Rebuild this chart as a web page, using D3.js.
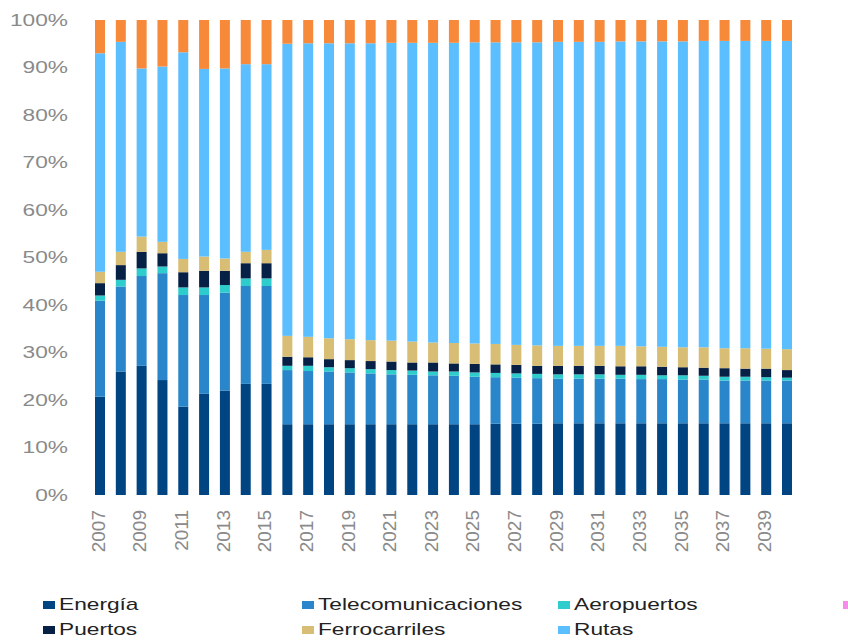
<!DOCTYPE html>
<html>
<head>
<meta charset="utf-8">
<script src="https://cdn.jsdelivr.net/npm/d3@7"></script>
<style>
  body { margin: 0; background: #fff; }
  svg { display: block; font-family: "Liberation Sans", Arial, sans-serif; }
</style>
</head>
<body>
<svg id="main_svg" width="848" height="642"></svg>
<script>
// years on the x axis
const years = d3.range(2007, 2041).map(String);
const yearLabels = years.filter((d, i) => i % 2 === 0);
const yTicks = [0, 10, 20, 30, 40, 50, 60, 70, 80, 90, 100];

// share of each sector, %
const energia = [20.7, 26.0, 27.2, 24.2, 18.6, 21.3, 22.0, 23.4, 23.4, 14.9, 14.9, 14.9, 14.9, 14.9, 14.9, 14.9, 14.9, 14.9, 14.9, 15.0, 15.0, 15.0, 15.1, 15.1, 15.1, 15.1, 15.1, 15.1, 15.1, 15.1, 15.1, 15.1, 15.1, 15.1];
const telecom = [20.2, 17.9, 18.9, 22.5, 23.5, 20.8, 20.6, 20.6, 20.6, 11.4, 11.2, 11.1, 10.9, 10.7, 10.5, 10.4, 10.3, 10.2, 10.0, 9.8, 9.7, 9.6, 9.4, 9.4, 9.4, 9.4, 9.3, 9.3, 9.2, 9.2, 9.0, 9.0, 9.0, 9.0];
const aeropuertos = [1.1, 1.4, 1.6, 1.4, 1.6, 1.6, 1.6, 1.6, 1.6, 0.9, 1.1, 0.9, 0.9, 0.9, 0.9, 0.9, 0.8, 0.9, 0.9, 0.9, 0.9, 0.9, 0.9, 0.9, 0.9, 0.8, 0.9, 0.8, 0.9, 0.8, 0.8, 0.8, 0.7, 0.6];
const puertos = [2.6, 3.1, 3.5, 2.8, 3.2, 3.5, 3.0, 3.2, 3.2, 1.9, 1.8, 1.7, 1.7, 1.7, 1.8, 1.7, 1.9, 1.7, 1.8, 1.8, 1.8, 1.7, 1.8, 1.8, 1.8, 1.8, 1.8, 1.8, 1.7, 1.7, 1.8, 1.7, 1.8, 1.6];
const ferrocarriles = [2.4, 2.8, 3.2, 2.4, 2.8, 3.0, 2.6, 2.4, 2.8, 4.4, 4.3, 4.4, 4.4, 4.4, 4.4, 4.4, 4.2, 4.3, 4.3, 4.3, 4.2, 4.3, 4.2, 4.2, 4.2, 4.3, 4.2, 4.2, 4.2, 4.3, 4.2, 4.3, 4.2, 4.4];
const rutas = [46.0, 44.2, 35.4, 36.9, 43.5, 39.5, 40.0, 39.5, 39.1, 61.5, 61.8, 62.1, 62.3, 62.5, 62.7, 62.9, 63.1, 63.2, 63.4, 63.5, 63.7, 63.8, 64.0, 64.0, 64.0, 64.1, 64.2, 64.3, 64.4, 64.5, 64.7, 64.7, 64.8, 64.9];
const otros = [7.0, 4.6, 10.2, 9.8, 6.8, 10.3, 10.2, 9.3, 9.3, 5.0, 4.9, 4.9, 4.9, 4.9, 4.8, 4.8, 4.8, 4.8, 4.7, 4.7, 4.7, 4.7, 4.6, 4.6, 4.6, 4.5, 4.5, 4.5, 4.5, 4.4, 4.4, 4.4, 4.4, 4.4];

const series = [
  { key: "Energía", values: energia, color: "#004481" },
  { key: "Telecomunicaciones", values: telecom, color: "#2a86ca" },
  { key: "Aeropuertos", values: aeropuertos, color: "#2dcccd" },
  { key: "Puertos", values: puertos, color: "#072146" },
  { key: "Ferrocarriles", values: ferrocarriles, color: "#d8be75" },
  { key: "Rutas", values: rutas, color: "#5bbeff" },
  { key: "Otros", values: otros, color: "#f7893b" }
];

// legend order as in the picture (two rows)
const legendOrder = ["Energía", "Telecomunicaciones", "Aeropuertos", "Puertos", "Ferrocarriles", "Rutas"];

const table = years.map((y, i) => {
  const row = { year: y };
  series.forEach(s => (row[s.key] = s.values[i]));
  return row;
});

const svg = d3.select("#main_svg");
const stretch = 1.42; // the source is widened horizontally

const x = d3
  .scaleBand()
  .domain(years)
  .range([95, 792])
  .paddingInner(0.52)
  .paddingOuter(0);

const y = d3
  .scaleLinear()
  .domain([0, 100])
  .range([495, 20]);

const stack = d3
  .stack()
  .keys(series.map(s => s.key))
  .offset(d3.stackOffsetExpand);

const layers = stack(table);
const color = d3
  .scaleOrdinal()
  .domain(series.map(s => s.key))
  .range(series.map(s => s.color));

svg
  .append("g")
  .selectAll("g")
  .data(layers)
  .enter()
  .append("g")
  .attr("fill", d => color(d.key))
  .selectAll("rect")
  .data(d => d)
  .enter()
  .append("rect")
  .attr("x", d => x(d.data.year))
  .attr("width", x.bandwidth())
  .attr("y", d => y(d[1] * 100))
  .attr("height", d => y(d[0] * 100) - y(d[1] * 100));

// y axis
const yAxis = svg
  .append("g")
  .attr("transform", "translate(68,0)")
  .call(
    d3
      .axisLeft(y)
      .tickValues(yTicks)
      .tickFormat(d => d + "%")
      .tickSize(0)
      .tickPadding(0)
  );
yAxis.select(".domain").remove();
yAxis
  .selectAll("text")
  .attr("fill", "#8a8a8a")
  .style("font-size", "16px")
  .attr("transform", `scale(${stretch},1)`);

// x axis, every other year
const xAxis = svg
  .append("g")
  .attr("transform", "translate(0,510)")
  .call(
    d3
      .axisBottom(x)
      .tickValues(yearLabels)
      .tickSize(0)
      .tickPadding(0)
  );
xAxis.select(".domain").remove();
xAxis
  .selectAll("text")
  .attr("fill", "#8a8a8a")
  .style("font-size", "19px")
  .attr("text-anchor", "end")
  .attr("x", 0)
  .attr("y", 0)
  .attr("dy", "0.25em")
  .attr("transform", "rotate(-90)");

// legend
const legendCols = [43, 302, 558];
const legendRows = [601, 626];
const legend = svg
  .append("g")
  .selectAll("g")
  .data(legendOrder)
  .enter()
  .append("g")
  .attr("transform", (d, i) => `translate(${legendCols[i % 3]},${legendRows[Math.floor(i / 3)]})`);

legend
  .append("rect")
  .attr("width", 12)
  .attr("height", 8)
  .attr("fill", d => color(d));

legend
  .append("text")
  .attr("transform", `translate(16,9) scale(${stretch},1)`)
  .attr("fill", "#222")
  .style("font-size", "16px")
  .text(d => d);

// a further legend key, cut off by the right edge
svg
  .append("rect")
  .attr("x", 843)
  .attr("y", legendRows[0])
  .attr("width", 12)
  .attr("height", 8)
  .attr("fill", "#f78be8");
</script>
</body>
</html>
